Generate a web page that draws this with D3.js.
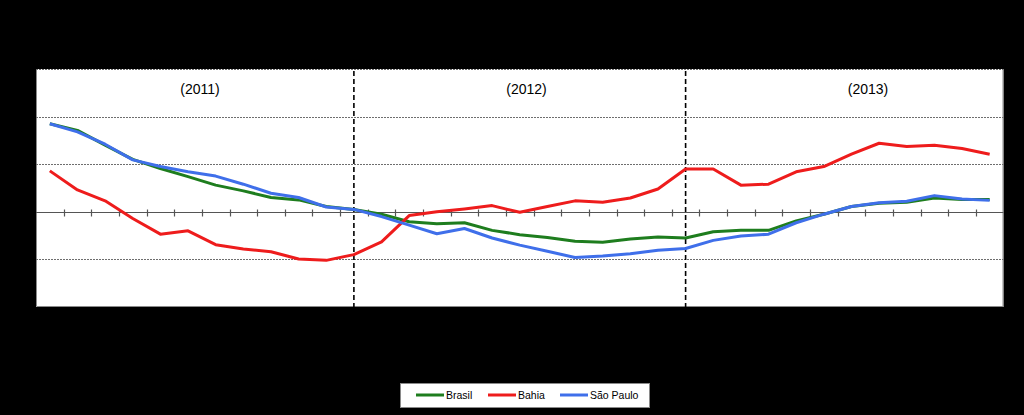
<!DOCTYPE html>
<html>
<head>
<meta charset="utf-8">
<script src="https://cdn.jsdelivr.net/npm/d3@7"></script>
<style>
  html, body { margin: 0; padding: 0; background: #000; }
  svg { display: block; font-family: "Liberation Sans", Arial, sans-serif; }
</style>
</head>
<body>
<div id="chart"></div>
<script>
// monthly categories, jan/2011 .. nov/2013
var months = ["jan/11","fev/11","mar/11","abr/11","mai/11","jun/11","jul/11","ago/11","set/11","out/11","nov/11","dez/11",
              "jan/12","fev/12","mar/12","abr/12","mai/12","jun/12","jul/12","ago/12","set/12","out/12","nov/12","dez/12",
              "jan/13","fev/13","mar/13","abr/13","mai/13","jun/13","jul/13","ago/13","set/13","out/13","nov/13"];

var brasil = [1.85,1.71,1.40,1.10,0.91,0.74,0.56,0.44,0.30,0.25,0.11,0.05,
              -0.05,-0.21,-0.25,-0.23,-0.39,-0.48,-0.54,-0.62,-0.64,-0.57,-0.53,-0.55,
              -0.42,-0.39,-0.39,-0.19,-0.05,0.11,0.18,0.20,0.29,0.26,0.26];
var bahia = [0.86,0.46,0.23,-0.14,-0.47,-0.40,-0.69,-0.78,-0.84,-0.99,-1.02,-0.90,
             -0.63,-0.08,0.00,0.06,0.13,-0.01,0.11,0.23,0.20,0.29,0.48,0.90,
             0.90,0.56,0.58,0.84,0.95,1.21,1.44,1.37,1.40,1.33,1.21];
var saoPaulo = [1.85,1.68,1.42,1.09,0.95,0.84,0.75,0.58,0.39,0.30,0.10,0.05,
                -0.10,-0.28,-0.46,-0.35,-0.55,-0.70,-0.83,-0.96,-0.93,-0.88,-0.81,-0.77,
                -0.60,-0.51,-0.47,-0.23,-0.05,0.11,0.19,0.22,0.34,0.27,0.24];

var seriesNames = ["Brasil", "Bahia", "São Paulo"];
var seriesColors = ["#1e7d1e", "#ee1c1c", "#3f6fea"];
var gridValues = [-1, 1, 2, 3];
var yearLabels = ["(2011)", "(2012)", "(2013)"];
var yearBreaks = ["dez/11", "dez/12"];

var W = 1024, H = 415;
var pLeft = 36, pRight = 1003.5, pTop = 69, pBottom = 307;

var svg = d3.select("#chart").append("svg")
    .attr("width", W).attr("height", H);

svg.append("rect").attr("width", W).attr("height", H).attr("fill", "#000");

var x = d3.scaleBand().domain(months).range([pLeft, pRight]);
var y = d3.scaleLinear().domain([-2, 3]).range([pBottom, pTop]);
var xc = function(d){ return x(d) + x.bandwidth() / 2; };

// plot area
svg.append("rect")
    .attr("x", pLeft).attr("y", pTop)
    .attr("width", pRight - pLeft).attr("height", pBottom - pTop)
    .attr("fill", "#fff");

// frame: left, right, bottom
svg.append("path")
    .attr("d", "M" + (pLeft + 0.5) + "," + pTop + "V" + (pBottom - 0.5) + "H" + (pRight - 0.5) + "V" + pTop)
    .attr("fill", "none").attr("stroke", "#8a8a8a").attr("stroke-width", 1);

// dotted gridlines
svg.selectAll("line.grid")
    .data(gridValues)
    .join("line")
    .attr("class", "grid")
    .attr("x1", pLeft).attr("x2", pRight)
    .attr("y1", function(d){ return Math.round(y(d)) + 0.5; })
    .attr("y2", function(d){ return Math.round(y(d)) + 0.5; })
    .attr("stroke", "#6e6e6e").attr("stroke-width", 1)
    .attr("stroke-dasharray", "2,1");

// zero axis with ticks between months
var y0 = Math.round(y(0)) + 0.5;
svg.append("line")
    .attr("x1", pLeft).attr("x2", pRight)
    .attr("y1", y0).attr("y2", y0)
    .attr("stroke", "#555").attr("stroke-width", 1.2);

svg.selectAll("line.tick")
    .data(months.slice(1))
    .join("line")
    .attr("class", "tick")
    .attr("x1", function(d){ return Math.round(x(d)) + 0.5; })
    .attr("x2", function(d){ return Math.round(x(d)) + 0.5; })
    .attr("y1", y0 - 3).attr("y2", y0 + 4)
    .attr("stroke", "#555").attr("stroke-width", 1.2);

// year separators
svg.selectAll("line.year")
    .data(yearBreaks)
    .join("line")
    .attr("class", "year")
    .attr("x1", xc).attr("x2", xc)
    .attr("y1", pTop + 2).attr("y2", pBottom)
    .attr("stroke", "#000").attr("stroke-width", 1.6)
    .attr("stroke-dasharray", "5,3");

// year labels
var yearX = [200, 526.5, 868];
svg.selectAll("text.yearlab")
    .data(yearLabels)
    .join("text")
    .attr("class", "yearlab")
    .attr("x", function(d, i){ return yearX[i]; })
    .attr("y", 94)
    .attr("text-anchor", "middle")
    .attr("font-size", 14)
    .attr("fill", "#000")
    .text(function(d){ return d; });

// series lines (Brasil, Bahia, then São Paulo on top)
var allSeries = [brasil, bahia, saoPaulo];
var line = d3.line()
    .x(function(d, i){ return xc(months[i]); })
    .y(function(d){ return y(d); });

svg.selectAll("path.series")
    .data(allSeries)
    .join("path")
    .attr("class", "series")
    .attr("d", line)
    .attr("fill", "none")
    .attr("stroke", function(d, i){ return seriesColors[i]; })
    .attr("stroke-width", 3)
    .attr("stroke-linejoin", "round");

// legend
var lg = svg.append("g");
lg.append("rect")
    .attr("x", 400.5).attr("y", 383.5)
    .attr("width", 249).attr("height", 24)
    .attr("fill", "#fff").attr("stroke", "#8a8a8a");

var legendX = [416, 488, 560];
var items = lg.selectAll("g.item")
    .data(seriesNames)
    .join("g")
    .attr("class", "item")
    .attr("transform", function(d, i){ return "translate(" + legendX[i] + ",395)"; });

items.append("line")
    .attr("x1", 0).attr("x2", 28)
    .attr("y1", 0).attr("y2", 0)
    .attr("stroke", function(d, i){ return seriesColors[i]; })
    .attr("stroke-width", 3);

items.append("text")
    .attr("x", 30).attr("y", 4)
    .attr("font-size", 10.5)
    .attr("fill", "#000")
    .text(function(d){ return d; });
</script>
</body>
</html>
